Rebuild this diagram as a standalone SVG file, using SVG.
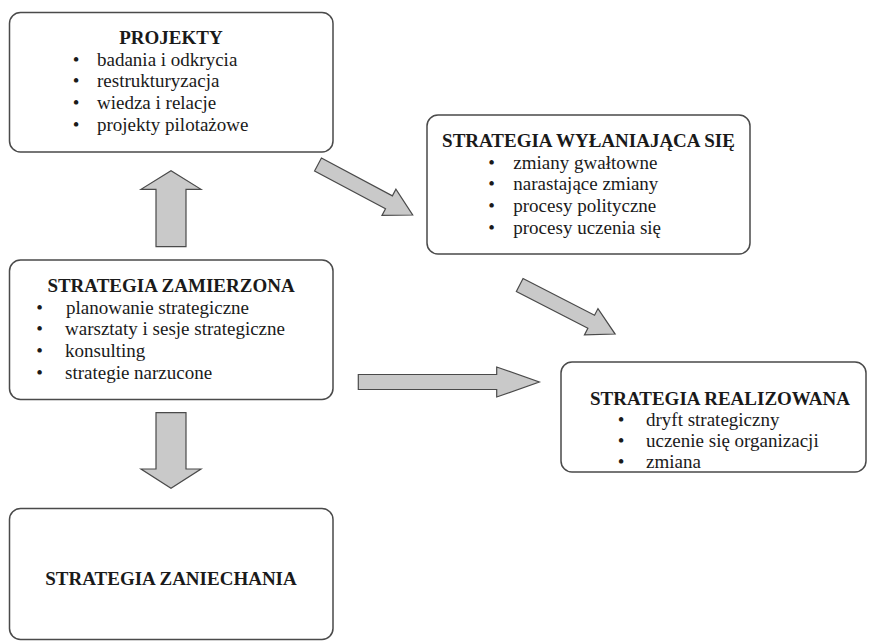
<svg xmlns="http://www.w3.org/2000/svg" xmlns:xlink="http://www.w3.org/1999/xlink" width="870" height="642" viewBox="0 0 870 642" font-family="'Liberation Serif', 'DejaVu Serif', serif" font-size="19">
  <style>
    .box { fill: #ffffff; stroke: #4a4a4a; stroke-width: 1.5; }
    .arrow { fill: #c9c9c9; stroke: #4a4a4a; stroke-width: 1.2; stroke-linejoin: miter; }
    text { font-family: 'Liberation Serif', 'DejaVu Serif', serif; font-size: 19px; fill: #1a1a1a; }
    .title { font-weight: bold; }
    .mid { text-anchor: middle; }
  </style>
  <defs>
    <!-- slanted block arrow, drawn along +x from its tail centre -->
    <polygon id="slant-arrow" points="0,-7.3 80.4,-7.3 80.4,-14.8 107.3,0 80.4,14.8 80.4,7.3 0,7.3"/>
  </defs>
  <rect width="870" height="642" fill="#ffffff"/>

  <g id="connectors">
    <!-- zamierzona -> projekty -->
    <polygon class="arrow" points="156,246.7 156,189.3 141,189.3 171,170.7 201,189.3 186,189.3 186,246.7"/>
    <!-- zamierzona -> zaniechania -->
    <polygon class="arrow" points="156,412.7 186,412.7 186,469 201,469 171,488.3 141,469 156,469"/>
    <!-- zamierzona -> realizowana -->
    <polygon class="arrow" points="358.3,374.5 496.7,374.5 496.7,367 539.3,382 496.7,397 496.7,389.5 358.3,389.5"/>
    <!-- projekty -> wyłaniająca się -->
    <use xlink:href="#slant-arrow" class="arrow" transform="translate(318,164.5) rotate(28.07)"/>
    <!-- wyłaniająca się -> realizowana -->
    <use xlink:href="#slant-arrow" class="arrow" transform="translate(519.7,285) rotate(27.2)"/>
  </g>

  <g id="projekty">
    <rect class="box" x="9.5" y="12.5" width="323.5" height="139.5" rx="11"/>
    <text class="title mid" x="171" y="44">PROJEKTY</text>
    <text x="76" y="65.5" class="mid">•</text><text x="97" y="65.5">badania i odkrycia</text>
    <text x="76" y="87.2" class="mid">•</text><text x="97" y="87.2">restrukturyzacja</text>
    <text x="76" y="108.9" class="mid">•</text><text x="97" y="108.9">wiedza i relacje</text>
    <text x="76" y="130.6" class="mid">•</text><text x="97" y="130.6">projekty pilotażowe</text>
  </g>

  <g id="wylaniajaca">
    <rect class="box" x="427" y="115" width="323" height="139" rx="11"/>
    <text class="title mid" x="588.5" y="147">STRATEGIA WYŁANIAJĄCA SIĘ</text>
    <text x="491.7" y="168.5" class="mid">•</text><text x="513.3" y="168.5">zmiany gwałtowne</text>
    <text x="491.7" y="190.2" class="mid">•</text><text x="513.3" y="190.2">narastające zmiany</text>
    <text x="491.7" y="211.9" class="mid">•</text><text x="513.3" y="211.9">procesy polityczne</text>
    <text x="491.7" y="233.6" class="mid">•</text><text x="513.3" y="233.6">procesy uczenia się</text>
  </g>

  <g id="zamierzona">
    <rect class="box" x="9.5" y="260" width="323.5" height="139.5" rx="11"/>
    <text class="title mid" x="171" y="291.5">STRATEGIA ZAMIERZONA</text>
    <text x="39.5" y="313.5" class="mid">•</text><text x="66" y="313.5">planowanie strategiczne</text>
    <text x="39.5" y="335.2" class="mid">•</text><text x="65" y="335.2">warsztaty i sesje strategiczne</text>
    <text x="39.5" y="356.9" class="mid">•</text><text x="65" y="356.9">konsulting</text>
    <text x="39.5" y="378.6" class="mid">•</text><text x="65" y="378.6">strategie narzucone</text>
  </g>

  <g id="realizowana">
    <rect class="box" x="561" y="362" width="305" height="110" rx="11"/>
    <text class="title" x="590" y="404.5">STRATEGIA REALIZOWANA</text>
    <text x="621" y="425.8" class="mid">•</text><text x="646" y="425.8">dryft strategiczny</text>
    <text x="621" y="447.1" class="mid">•</text><text x="646" y="447.1">uczenie się organizacji</text>
    <text x="621" y="468.4" class="mid">•</text><text x="646" y="468.4">zmiana</text>
  </g>

  <g id="zaniechania">
    <rect class="box" x="9.5" y="508.5" width="323.5" height="131" rx="11"/>
    <text class="title mid" x="171" y="585">STRATEGIA ZANIECHANIA</text>
  </g>
</svg>
